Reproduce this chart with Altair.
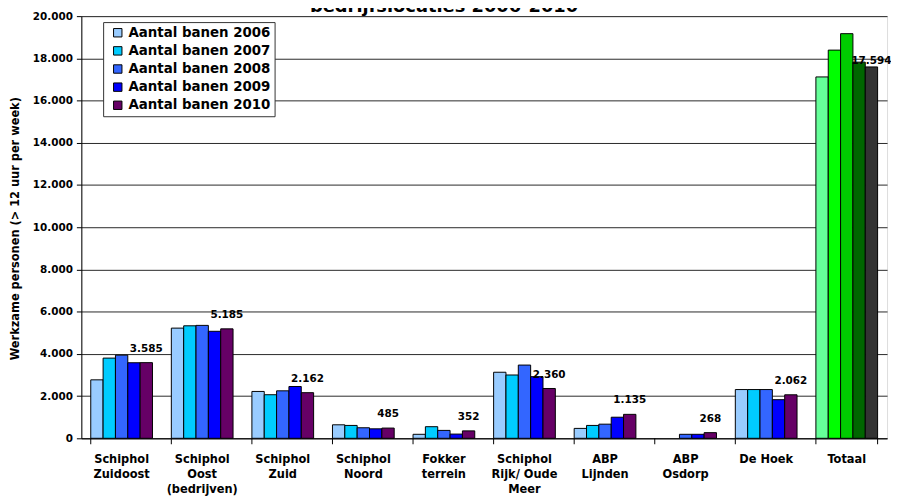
import altair as alt
import pandas as pd

categories = ["Schiphol\nZuidoost", "Schiphol\nOost\n(bedrijven)", "Schiphol\nZuid",
              "Schiphol\nNoord", "Fokker\nterrein", "Schiphol\nRijk/ Oude\nMeer",
              "ABP\nLijnden", "ABP\nOsdorp", "De Hoek", "Totaal"]
years = ["Aantal banen 2006", "Aantal banen 2007", "Aantal banen 2008",
         "Aantal banen 2009", "Aantal banen 2010"]
banen_2006 = [2770, 5220, 2220, 640, 190, 3130, 470, None, 2310, 17120]
banen_2007 = [3800, 5330, 2065, 610, 550, 3000, 610, None, 2310, 18390]
banen_2008 = [3940, 5350, 2250, 500, 375, 3470, 670, 190, 2310, 19170]
banen_2009 = [3580, 5070, 2455, 450, 200, 2920, 1000, 190, 1830, 17820]
banen_2010 = [3585, 5185, 2162, 485, 352, 2360, 1135, 268, 2062, 17594]
series = [banen_2006, banen_2007, banen_2008, banen_2009, banen_2010]
colors_locaties = ["#99CCFF", "#00CCFF", "#3366FF", "#0000FF", "#660066"]
colors_totaal = ["#66FF99", "#00FF00", "#00CC00", "#006600", "#333333"]
title_text = "bedrijfslocaties 2006-2010"
y_title = "Werkzame personen (> 12 uur per week)"
y_ticks = list(range(0, 20001, 2000))

rows = []
for yr, vals in zip(years, series):
    for cat, v in zip(categories, vals):
        if v is None:
            continue
        key = ("Totaal " + yr) if cat == "Totaal" else yr
        rows.append({"cat": cat, "year": yr, "value": v, "key": key})
df = pd.DataFrame(rows)
cat_df = pd.DataFrame({"cat": categories})

FONT = "DejaVu Sans"

x_axis = alt.Axis(title=None, labelAngle=0, ticks=False, domainColor="black",
                  labelExpr="split(datum.label, '\\n')", labelFontSize=11.5,
                  labelFontWeight="bold", labelColor="black", labelPadding=15,
                  labelLineHeight=15.5, labelBaseline="top", labelFont=FONT)
x_scale = alt.Scale(paddingInner=0.234, paddingOuter=0.117)


def xenc(**kw):
    return alt.X("cat:N", sort=categories, scale=x_scale, axis=x_axis, **kw)


xoff = alt.XOffset("year:N", sort=years, scale=alt.Scale(paddingInner=0, paddingOuter=0))
label_expr = "replace(format(datum.value, ','), ',', '.')"

bars = alt.Chart(df).mark_bar(stroke="black", strokeWidth=1).encode(
    x=xenc(),
    xOffset=xoff,
    y=alt.Y("value:Q", scale=alt.Scale(domain=[0, 20000], nice=False),
            axis=alt.Axis(values=y_ticks, title=y_title, labelExpr=label_expr,
                          tickSize=5, tickColor="black", domainColor="black",
                          gridColor="#111111", gridOpacity=0.9,
                          labelFontSize=10.5, labelFontWeight="bold",
                          labelColor="black", labelFont=FONT, labelPadding=4,
                          titleFontSize=11.5, titleFontWeight="bold", titleColor="black",
                          titleFont=FONT, titleX=-66, titleY=214, titleAngle=270,
                          titleAlign="center", titleBaseline="middle")),
    color=alt.Color("key:N",
                    scale=alt.Scale(domain=years + ["Totaal " + y for y in years],
                                    range=colors_locaties + colors_totaal),
                    legend=alt.Legend(values=years, title=None, orient="none",
                                      legendX=22, legendY=6, symbolType="square",
                                      symbolSize=72, symbolStrokeColor="black",
                                      symbolStrokeWidth=1, symbolOffset=4,
                                      labelOffset=4, labelFontSize=13.5,
                                      labelFontWeight="bold", labelColor="black",
                                      labelFont=FONT, strokeColor="#333333",
                                      fillColor="white", padding=4, rowPadding=3.3,
                                      labelLimit=300)),
)

labels_base = alt.Chart(df).transform_filter(
    alt.datum.year == years[-1]
).transform_calculate(lbl=label_expr)

labels = labels_base.transform_filter(alt.datum.cat != "Totaal").mark_text(
    dy=-14, fontSize=10.5, fontWeight="bold", font=FONT, color="black", baseline="middle"
).encode(x=xenc(), xOffset=xoff, y="value:Q", text="lbl:N")

label_tot = labels_base.transform_filter(alt.datum.cat == "Totaal").mark_text(
    dy=-6, fontSize=10.5, fontWeight="bold", font=FONT, color="black", baseline="middle"
).encode(x=xenc(), xOffset=xoff, y="value:Q", text="lbl:N")

ticks_start = alt.Chart(cat_df).mark_rule(color="black").encode(
    x=xenc(bandPosition=0), y=alt.value(426), y2=alt.value(432))
ticks_end = alt.Chart(cat_df).transform_filter(alt.datum.cat == "Totaal").mark_rule(
    color="black").encode(x=xenc(bandPosition=1), y=alt.value(426), y2=alt.value(432))

title = alt.Chart(pd.DataFrame({"t": [title_text]})).mark_text(
    fontSize=18, fontWeight="bold", font=FONT, color="black", align="center",
    baseline="alphabetic").encode(x=alt.value(366), y=alt.value(-4), text="t:N")

chart = alt.layer(bars, labels, label_tot, ticks_start, ticks_end, title).properties(
    width=813, height=426,
    autosize=alt.AutoSizeParams(type="none"),
    padding={"left": 74, "top": 6, "right": 4, "bottom": 56},
).configure_view(stroke="#808080", strokeWidth=1.5).configure(font=FONT)

chart.save("out.html", embed_options={"renderer": "svg", "actions": False})
